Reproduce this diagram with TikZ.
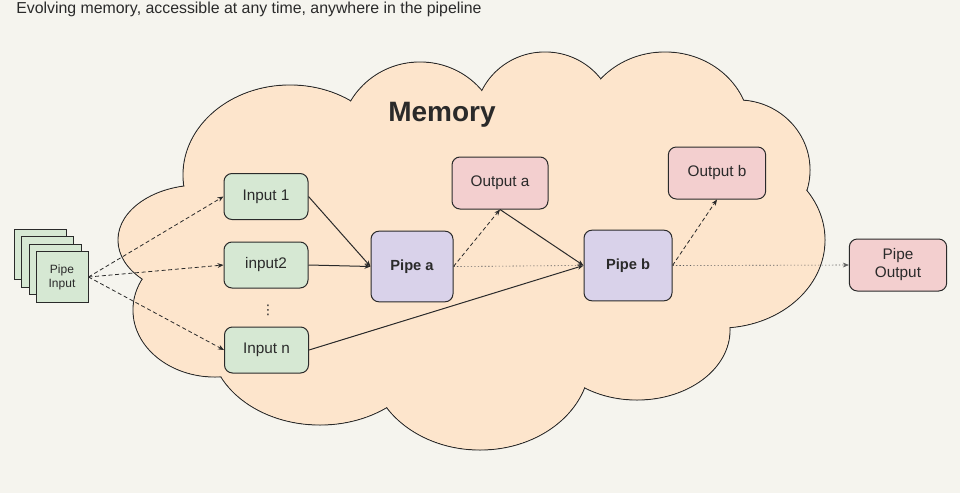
\documentclass[tikz,border=0pt]{standalone}
\usepackage{fontspec}
\setmainfont{Liberation Sans}
\newfontfamily\dejavu{DejaVu Sans}
\usetikzlibrary{arrows.meta}
\definecolor{bg}{HTML}{F5F4EE}
\definecolor{cloudc}{HTML}{FDE5CC}
\definecolor{grn}{HTML}{D6E8D3}
\definecolor{pnk}{HTML}{F3CFCF}
\definecolor{prp}{HTML}{D9D2EA}
\definecolor{ink}{HTML}{2A2A2A}
\begin{document}
\begin{tikzpicture}[x=0.75pt,y=-0.75pt,
  box/.style={draw=ink,line width=0.75pt,rounded corners=6pt,align=center,inner sep=0pt,font=\fontsize{11.5}{13.5}\selectfont,text=ink},
  inbox/.style={box,fill=grn,minimum width=63pt,minimum height=34.5pt},
  outbox/.style={box,fill=pnk,minimum width=73pt,minimum height=39pt},
  pipebox/.style={box,fill=prp,minimum height=53pt,font=\fontsize{11}{13}\selectfont\bfseries},
  sq/.style={draw=ink,line width=0.75pt,fill=grn,minimum width=39pt,minimum height=38pt,inner sep=0pt,align=center,font=\fontsize{9}{10.5}\selectfont,text=ink},
  tip/.style={-{Stealth[length=4.5pt,width=3.6pt]}},
  dashedarrow/.style={tip,draw=ink,line width=0.6pt,dash pattern=on 3pt off 2pt},
  solidarrow/.style={tip,draw=ink,line width=0.75pt},
  dottedline/.style={draw=ink!75,line width=0.45pt,dash pattern=on 1pt off 1.6pt},
]
\fill[bg] (0,0) rectangle (960,493);
\useasboundingbox (0,0) rectangle (960,493);
\node[anchor=west,font=\fontsize{11.9}{13}\selectfont,text=ink,inner sep=0pt] (title) at (16,9) {Evolving memory, accessible at any time, anywhere in the pipeline};

% cloud
\def\lobes{290/175/107/90, 420/140/80/78, 545/120/70/68, 665/130/85/78, 738/170/72/70, 720/240/105/88, 637/330/93/70, 480/360/110/90, 320/340/110/85, 215/310/82/67, 200/240/82/55}
\foreach \cx/\cy/\rx/\ry in \lobes {
  \draw[draw=ink,line width=0.75pt,fill=cloudc] (\cx,\cy) ellipse [x radius=\rx*0.75pt, y radius=\ry*0.75pt];
}
\foreach \cx/\cy/\rx/\ry in \lobes {
  \fill[cloudc] (\cx,\cy) ellipse [x radius=\rx*0.75pt-0.5pt, y radius=\ry*0.75pt-0.5pt];
}
\fill[cloudc] (460,250) ellipse [x radius=250*0.75pt, y radius=130*0.75pt];

\node[font=\fontsize{21}{25}\selectfont\bfseries,text=ink] (mem) at (442,115) {Memory};

% pipe input stack
\node[sq] (s1) at (40,254.5) {};
\node[sq] (s2) at (47.5,262) {};
\node[sq] (s3) at (55,269.5) {};
\node[sq] (pin) at (62,277) {Pipe\\Input};

\node[inbox] (in1) at (266,196.5) {Input 1};
\node[inbox] (in2) at (266,265) {input2};
\node[font=\dejavu\fontsize{10}{12}\selectfont,text=ink] (dots) at (268,310) {⋮};
\node[inbox] (inn) at (266.5,350) {Input n};

\node[pipebox,minimum width=61.5pt] (pa) at (412,266.5) {Pipe a};
\node[pipebox,minimum width=66pt] (pb) at (628,265.5) {Pipe b};
\node[outbox,minimum width=72pt] (oa) at (500,183) {Output a};
\node[outbox] (ob) at (717,173) {Output b};
\node[outbox] (po) at (898,265) {Pipe\\Output};

% connectors
\draw[dashedarrow] (pin.east) -- (in1.west);
\draw[dashedarrow] (pin.east) -- (in2.west);
\draw[dashedarrow] (pin.east) -- (inn.west);
\draw[solidarrow] (in1.east) -- (pa.west);
\draw[solidarrow] (in2.east) -- (pa.west);
\draw[solidarrow] (inn.east) -- (pb.west);
\draw[dashedarrow] (pa.east) -- (oa.south);
\draw[solidarrow] (oa.south) -- (pb.west);
\draw[dottedline] (pa.east) -- (pb.west);
\draw[dashedarrow] (pb.east) -- (ob.south);
\draw[dottedline,tip] (pb.east) -- (po.west);
\end{tikzpicture}
\end{document}
